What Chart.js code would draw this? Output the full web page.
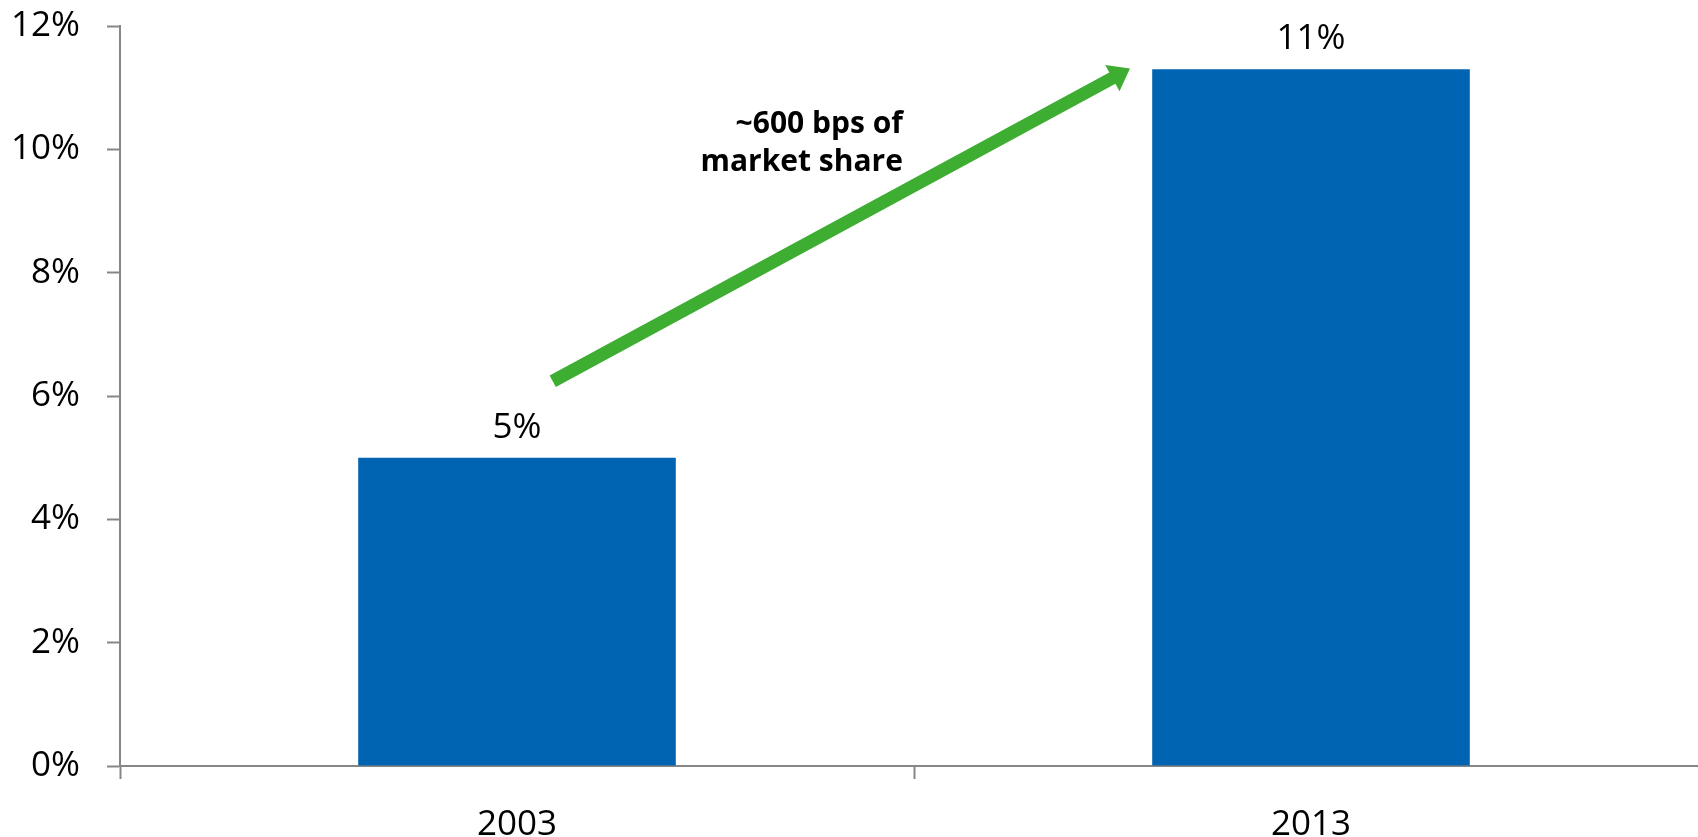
<!DOCTYPE html>
<html>
<head>
<meta charset="utf-8">
<script src="https://cdn.jsdelivr.net/npm/chart.js@4/dist/chart.umd.min.js"></script>
<style>
  html, body { margin: 0; padding: 0; background: #fff; overflow: hidden; }
  canvas { display: block; }
</style>
</head>
<body>
<canvas id="barChart" width="1708" height="837"></canvas>
<script>
const CHART = document.getElementById('barChart')

const years = ['2003', '2013']
const share = [5.0, 11.3]
const yTicks = [0, 2, 4, 6, 8, 10, 12]
const noteLines = ['~600 bps of', 'market share']

// arrow from just above the 2003 bar up to the top of the 2013 bar (category index, % value)
const arrowFrom = [0.045, 6.24]
const arrowTo = [0.772, 11.31]
const noteAt = [0.486, 10.27]

const AXIS = '#878787'
const FONT = "'Open Sans', 'Noto Sans', sans-serif"

const valueLabels = {
    id: 'valueLabels',
    afterDatasetsDraw(chart) {
        const ctx = chart.ctx
        const meta = chart.getDatasetMeta(0)
        ctx.save()
        ctx.font = '35px ' + FONT
        ctx.fillStyle = '#000'
        ctx.textAlign = 'center'
        ctx.textBaseline = 'alphabetic'
        meta.data.forEach((bar, i) => {
            ctx.fillText(Math.round(share[i]) + '%', bar.x, bar.y - 20)
        })
        ctx.restore()
    }
}

const growthArrow = {
    id: 'growthArrow',
    afterDatasetsDraw(chart) {
        const ctx = chart.ctx
        const xs = chart.scales.x, ys = chart.scales.y
        const x1 = xs.getPixelForValue(arrowFrom[0]), y1 = ys.getPixelForValue(arrowFrom[1])
        const x2 = xs.getPixelForValue(arrowTo[0]), y2 = ys.getPixelForValue(arrowTo[1])
        const ang = Math.atan2(y2 - y1, x2 - x1)
        const headLen = 20, headW = 15
        const bx = x2 - headLen * Math.cos(ang), by = y2 - headLen * Math.sin(ang)

        ctx.save()
        ctx.strokeStyle = '#3DAE31'
        ctx.fillStyle = '#3DAE31'
        ctx.lineWidth = 13
        ctx.lineCap = 'butt'
        ctx.beginPath()
        ctx.moveTo(x1, y1)
        ctx.lineTo(bx + 1 * Math.cos(ang), by + 1 * Math.sin(ang))
        ctx.stroke()

        ctx.beginPath()
        ctx.moveTo(x2, y2)
        ctx.lineTo(bx + headW * Math.sin(ang), by - headW * Math.cos(ang))
        ctx.lineTo(bx - headW * Math.sin(ang), by + headW * Math.cos(ang))
        ctx.closePath()
        ctx.fill()

        // note text
        const tx = xs.getPixelForValue(noteAt[0]), ty = ys.getPixelForValue(noteAt[1])
        ctx.font = 'bold 30px ' + FONT
        ctx.fillStyle = '#000'
        ctx.textAlign = 'right'
        ctx.textBaseline = 'alphabetic'
        noteLines.forEach((line, i) => ctx.fillText(line, tx, ty + i * 38))
        ctx.restore()
    }
}

let barChart = new Chart(CHART, {
    type: 'bar',
    data: {
        labels: years,
        datasets: [
            {
                label: 'Market share',
                data: share,
                backgroundColor: '#0064B2',
                borderWidth: 0,
                barPercentage: 0.4,
                categoryPercentage: 1
            }
        ]
    },
    options: {
        responsive: false,
        animation: false,
        layout: { padding: { top: 26, left: 0, right: 0, bottom: 0 } },
        plugins: {
            legend: { display: false },
            tooltip: { enabled: false }
        },
        scales: {
            x: {
                offset: true,
                grid: {
                    offset: true,
                    drawOnChartArea: false,
                    drawTicks: true,
                    tickLength: 13,
                    tickWidth: 2,
                    color: AXIS
                },
                border: { color: AXIS, width: 2 },
                ticks: {
                    color: '#000',
                    padding: 25,
                    font: { family: FONT, size: 35 }
                },
                afterFit: (scale) => {
                    scale.height = 71
                    scale.paddingLeft = 0
                    scale.paddingRight = 0
                }
            },
            y: {
                min: 0,
                max: 12,
                afterBuildTicks: (scale) => { scale.ticks = yTicks.map(v => ({ value: v })) },
                grid: {
                    drawOnChartArea: false,
                    drawTicks: true,
                    tickLength: 13,
                    tickWidth: 2,
                    color: AXIS
                },
                border: { color: AXIS, width: 2 },
                ticks: {
                    color: '#000',
                    padding: 27,
                    font: { family: FONT, size: 35 },
                    callback: (v) => v + '%'
                },
                afterFit: (scale) => {
                    scale.width = 120
                    scale.paddingTop = 0
                    scale.paddingBottom = 0
                }
            }
        }
    },
    plugins: [valueLabels, growthArrow]
})
</script>
</body>
</html>
